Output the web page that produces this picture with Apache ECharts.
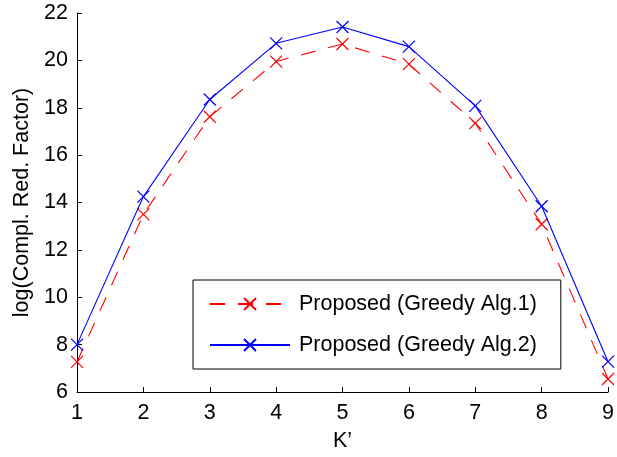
<!DOCTYPE html>
<html>
<head>
<meta charset="utf-8">
<script src="https://cdn.jsdelivr.net/npm/echarts@6/dist/echarts.min.js"></script>
<style>
  html, body { margin: 0; padding: 0; background: #fff; }
  #chart { width: 617px; height: 457px; }
</style>
</head>
<body>
<div id="chart"></div>
<script>
// K' values on the horizontal axis
const kValues = [1, 2, 3, 4, 5, 6, 7, 8, 9];
// log of complexity reduction factor, one list per algorithm
const greedyAlg1 = [7.27, 13.5, 17.62, 19.95, 20.69, 19.84, 17.35, 13.08, 6.55];
const greedyAlg2 = [8.0, 14.25, 18.35, 20.72, 21.41, 20.58, 18.08, 13.84, 7.28];
const seriesNames = ['Proposed (Greedy Alg.1)', 'Proposed (Greedy Alg.2)'];
const yTicks = { min: 6, max: 22, step: 2 };
const xTicks = { min: 1, max: 9, step: 1 };

const FONT = 'Liberation Sans, Arial, Helvetica, sans-serif';
const FONT_SIZE = 21.5;
const crossSymbol = 'path://M0,0L10,10M10,0L0,10';

const pairs = (ys) => kValues.map((k, i) => [k, ys[i]]);

const chart = echarts.init(document.getElementById('chart'), null, { renderer: 'canvas' });

const axisCommon = {
  axisLine: { show: true, onZero: false, lineStyle: { color: '#000', width: 1 } },
  axisTick: { show: true, inside: true, length: 5, lineStyle: { color: '#000', width: 1 } },
  splitLine: { show: false },
  nameTextStyle: { color: '#000', fontSize: FONT_SIZE, fontFamily: FONT },
};

chart.setOption({
  animation: false,
  backgroundColor: '#fff',
  grid: { left: 77, right: 7, top: 13, bottom: 61 },
  xAxis: Object.assign({}, axisCommon, {
    type: 'value',
    min: xTicks.min, max: xTicks.max, interval: xTicks.step,
    name: 'K\u2019',
    nameLocation: 'middle',
    nameGap: 38,
    axisLabel: { color: '#000', fontSize: FONT_SIZE, fontFamily: FONT, margin: 10 },
  }),
  yAxis: Object.assign({}, axisCommon, {
    type: 'value',
    min: yTicks.min, max: yTicks.max, interval: yTicks.step,
    name: 'log(Compl. Red. Factor)',
    nameLocation: 'middle',
    nameGap: 43,
    axisLabel: { color: '#000', fontSize: FONT_SIZE, fontFamily: FONT, margin: 9 },
  }),
  legend: {
    orient: 'vertical',
    left: 193,
    top: 280,
    backgroundColor: '#fff',
    borderColor: '#000',
    borderWidth: 1,
    borderRadius: 0,
    padding: [13, 24, 13, 16],
    itemGap: 19,
    itemWidth: 80,
    itemHeight: 15,
    textStyle: { color: '#000', fontSize: FONT_SIZE, fontFamily: FONT, padding: [0, 0, 0, 4] },
    data: seriesNames,
  },
  series: [
    {
      name: seriesNames[0],
      type: 'line',
      data: pairs(greedyAlg1),
      symbol: crossSymbol,
      symbolSize: 12,
      showAllSymbol: true,
      lineStyle: { color: '#ff0000', width: 1.1, type: [15, 13] },
      itemStyle: { color: 'rgba(0,0,0,0)', borderColor: '#ff0000', borderWidth: 1.2 },
      z: 2,
    },
    {
      name: seriesNames[1],
      type: 'line',
      data: pairs(greedyAlg2),
      symbol: crossSymbol,
      symbolSize: 12,
      showAllSymbol: true,
      lineStyle: { color: '#0000ff', width: 1.1, type: 'solid' },
      itemStyle: { color: 'rgba(0,0,0,0)', borderColor: '#0000ff', borderWidth: 1.2 },
      z: 3,
    },
  ],
});
</script>
</body>
</html>
